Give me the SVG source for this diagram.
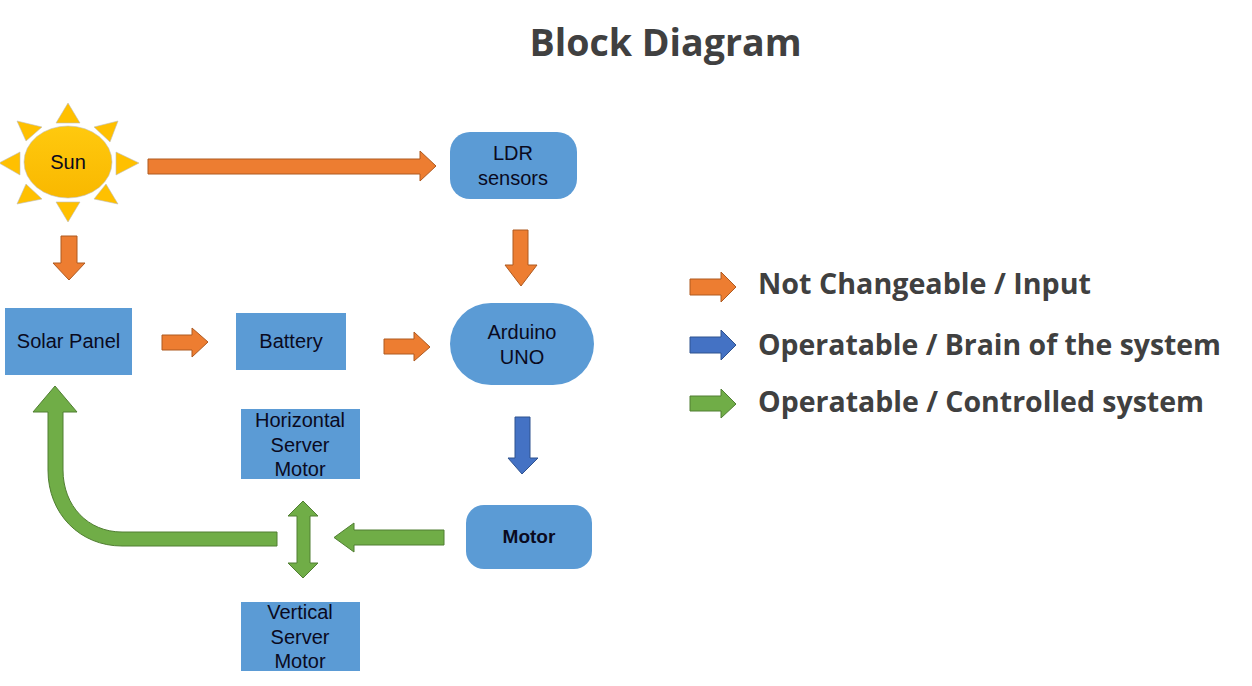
<svg xmlns="http://www.w3.org/2000/svg" width="1252" height="686" viewBox="0 0 1252 686">
<style>
.box{fill:#5b9bd5}
.t{font-family:"Liberation Sans",Arial,sans-serif;font-size:20px;fill:#0a0a1e;text-anchor:middle}
.m{font-size:19px;font-weight:700}
.h{font-family:"Open Sans","Noto Sans",sans-serif;font-weight:700;fill:#404040}
.o{fill:#ed7d31;stroke:#ae5a21;stroke-width:1}
.b{fill:#4472c4;stroke:#2f528f;stroke-width:1}
.g{fill:#70ad47;stroke:#507e32;stroke-width:1}
.ray{fill:#ffc000;stroke:#bdbdbd;stroke-width:.6}
</style>
<defs>
<linearGradient id="sun" x1="0" y1="0" x2="0" y2="1"><stop offset="0" stop-color="#ffc90e"/><stop offset="1" stop-color="#f9b800"/></linearGradient>
</defs>
<rect width="1252" height="686" fill="#fff"/>
<text id="title" class="h" x="665.500" y="56" font-size="38" text-anchor="middle" textLength="272" lengthAdjust="spacingAndGlyphs">Block Diagram</text>
<g id="sun-node">
<polygon class="ray" points="68,103 80,123 56,123"/>
<polygon class="ray" points="139,163 116,152 116,175"/>
<polygon class="ray" points="-1,163 20,152 20,175"/>
<polygon class="ray" points="68,222 80,202 56,202"/>
<polygon class="ray" points="118,121 94,127 110,142"/>
<polygon class="ray" points="17,121 42,127 26,141"/>
<polygon class="ray" points="17,204 42,199 26,184"/>
<polygon class="ray" points="118,204 94,199 106,184"/>
<ellipse cx="68" cy="162" rx="44" ry="36" fill="url(#sun)" stroke="#bdbdbd" stroke-width=".6"/>
<text class="t" x="68" y="169">Sun</text>
</g>
<g id="ldr"><rect class="box" x="450" y="132" width="127" height="67" rx="20"/><text class="t"><tspan x="513" y="160">LDR</tspan><tspan x="513" y="185">sensors</tspan></text></g>
<g id="solar"><rect class="box" x="5" y="308" width="127" height="67"/><text class="t" x="68.500" y="348">Solar Panel</text></g>
<g id="battery"><rect class="box" x="236" y="313" width="110" height="57"/><text class="t" x="291" y="348">Battery</text></g>
<g id="arduino"><rect class="box" x="450" y="303" width="144" height="82" rx="41"/><text class="t"><tspan x="522" y="339">Arduino</tspan><tspan x="522" y="364">UNO</tspan></text></g>
<g id="hmotor"><rect class="box" x="241" y="409" width="119" height="70"/><text class="t"><tspan x="300" y="427">Horizontal</tspan><tspan x="300" y="452">Server</tspan><tspan x="300" y="476">Motor</tspan></text></g>
<g id="motor"><rect class="box" x="466" y="505" width="126" height="64" rx="18"/><text class="t m" x="529" y="543">Motor</text></g>
<g id="vmotor"><rect class="box" x="241" y="602" width="119" height="69"/><text class="t"><tspan x="300" y="619">Vertical</tspan><tspan x="300" y="644">Server</tspan><tspan x="300" y="668">Motor</tspan></text></g>
<g id="connectors">
<polygon class="o" points="148,159 420,159 420,151 436,166 420,181 420,174 148,174"/>
<polygon class="o" points="61,236 77,236 77,263 85,263 69,280 53,263 61,263"/>
<polygon class="o" points="513,230 528,230 528,265 537,265 521,286 505,265 513,265"/>
<polygon class="o" points="162,335 192,335 192,328 208,342 192,357 192,350 162,350"/>
<polygon class="o" points="384,339 414,339 414,332 430,347 414,361 414,354 384,354"/>
<polygon class="b" points="515,417 530,417 530,458 538,458 522,474 508,458 515,458"/>
<polygon class="g" points="444,530 354,530 354,523 334,537.500 354,552 354,545 444,545"/>
<polygon class="g" points="303,501 318,516 310,516 310,563 318,563 303,578 288,563 297,563 297,516 288,516"/>
<path class="g" d="M277 532H122C88 532 63 506 63 470V412H77L55 386L33 412H48V470C48 514 80 546 122 546H277Z"/>
</g>
<g id="legend">
<polygon class="o" points="690,279 721,279 721,272 736,287 721,302 721,295 690,295"/>
<polygon class="b" points="690,337 721,337 721,330 736,345 721,360 721,353 690,353"/>
<polygon class="g" points="690,396 721,396 721,389 736,404 721,418 721,411 690,411"/>
<text class="h" x="758" y="294" font-size="29" textLength="333" lengthAdjust="spacingAndGlyphs">Not Changeable / Input</text>
<text class="h" x="758" y="355" font-size="29" textLength="463" lengthAdjust="spacingAndGlyphs">Operatable / Brain of the system</text>
<text class="h" x="758" y="412" font-size="29" textLength="446" lengthAdjust="spacingAndGlyphs">Operatable / Controlled system</text>
</g>
</svg>
